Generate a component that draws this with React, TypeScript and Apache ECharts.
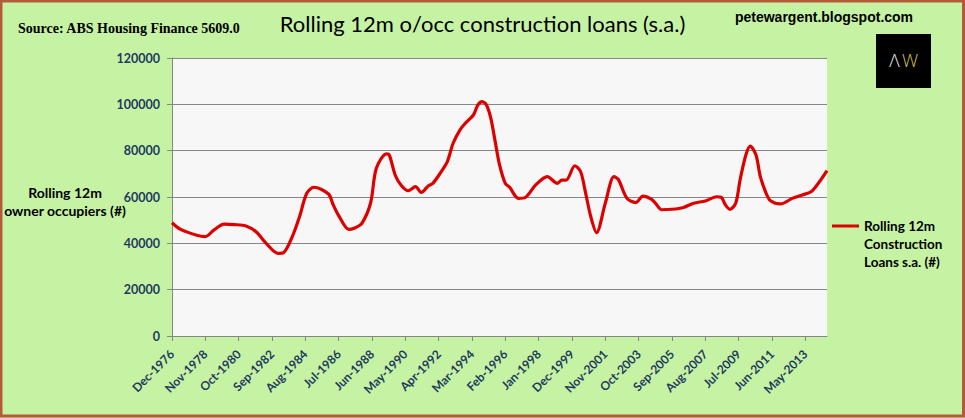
import React, { useEffect, useRef } from "react";
import * as echarts from "echarts";

// Points (month, rolling 12m owner-occupier construction loans)
const pointDates = [
  "1976-12", "1977-06", "1978-05", "1978-11", "1979-05", "1979-12", "1980-07", "1981-03", "1981-10", "1982-05",
  "1983-01", "1983-05", "1983-11", "1984-04", "1984-09", "1985-02", "1985-12", "1986-03", "1986-07", "1987-02",
  "1987-06", "1987-11", "1988-05", "1988-09", "1989-04", "1989-06", "1989-10", "1990-02", "1990-07", "1990-12",
  "1991-04", "1991-09", "1991-12", "1992-05", "1992-10", "1993-02", "1993-07", "1993-11", "1994-04", "1994-07",
  "1994-10", "1995-01", "1995-04", "1995-07", "1995-10", "1996-02", "1996-05", "1996-11", "1997-04", "1997-11",
  "1998-07", "1999-02", "1999-05", "1999-08", "2000-02", "2000-06", "2000-09", "2001-01", "2001-05", "2001-11",
  "2002-05", "2002-08", "2003-02", "2003-08", "2004-01", "2004-07", "2004-10", "2005-02", "2005-09", "2006-05",
  "2006-12", "2007-08", "2008-04", "2008-07", "2008-10", "2009-01", "2009-05", "2009-08", "2009-12", "2010-03",
  "2010-07", "2010-10", "2011-02", "2011-05", "2011-12", "2012-08", "2013-03", "2013-09", "2014-02", "2014-08",
];

const loanValues = [
  48900, 46000, 43500, 42900, 45800, 48300, 48100, 47500, 45000, 40000,
  35700, 36000, 42900, 51500, 61600, 64200, 61300, 57000, 52000, 46000,
  46600, 48600, 57300, 72400, 78600, 78100, 69500, 65200, 62700, 64500,
  62000, 64900, 65900, 70200, 75300, 83200, 89200, 92200, 95400, 99700,
  101200, 99700, 94000, 84000, 74000, 65900, 64200, 59400, 59900, 65200,
  68800, 65900, 67300, 67300, 73500, 70900, 63000, 51500, 44600, 57300,
  68800, 67600, 59400, 57600, 60400, 59000, 57000, 54500, 54700, 55500,
  57300, 58300, 60100, 59900, 56500, 54700, 57300, 67300, 78100, 82000,
  78100, 68800, 61600, 58400, 57000, 59400, 60900, 62300, 65900, 71400,
];

const tickLabels = [
  "Dec-1976", "Nov-1978", "Oct-1980", "Sep-1982", "Aug-1984", "Jul-1986", "Jun-1988",
  "May-1990", "Apr-1992", "Mar-1994", "Feb-1996", "Jan-1998", "Dec-1999", "Nov-2001",
  "Oct-2003", "Sep-2005", "Aug-2007", "Jul-2009", "Jun-2011", "May-2013",
];
const tickStepMonths = 23;
const startDate = "1976-12";
const endDate = "2014-08";

const seriesName = "Rolling 12m Construction Loans s.a. (#)";
const legendLines = ["Rolling 12m", "Construction", "Loans s.a. (#)"];
const yTitleLines = ["Rolling 12m", "owner occupiers (#)"];

const monthIndex = (d: string) => {
  const [y, m] = d.split("-").map(Number);
  const [y0, m0] = startDate.split("-").map(Number);
  return (y - y0) * 12 + (m - m0);
};

const FONT = "Lato, 'Open Sans', sans-serif";
const AXIS_BLUE = "#1f3a5f";

export default function App() {
  const ref = useRef<HTMLDivElement>(null);

  useEffect(() => {
    if (!ref.current) return;
    const chart = echarts.init(ref.current, undefined, { renderer: "svg" });
    const data = pointDates.map((d, i) => [monthIndex(d), loanValues[i]]);
    const tickValues = tickLabels.map((_, i) => i * tickStepMonths);

    chart.setOption({
      animation: false,
      backgroundColor: "#c6f2a4",
      title: {
        text: "Rolling 12m o/occ construction loans (s.a.)",
        left: "center",
        top: 7,
        textStyle: { fontFamily: FONT, fontSize: 22, fontWeight: "normal", color: "#000" },
      },
      grid: {
        left: 172,
        right: 138,
        top: 58,
        bottom: 82,
        show: true,
        backgroundColor: "#f7f7f7",
        borderWidth: 0,
      },
      legend: {
        show: true,
        left: 832,
        top: 181,
        padding: 0,
        orient: "vertical",
        selectedMode: false,
        icon: "rect",
        itemWidth: 27,
        itemHeight: 3,
        formatter: () => "\n\n" + legendLines.join("\n"),
        textStyle: {
          fontFamily: FONT,
          fontSize: 13.5,
          fontWeight: "bold",
          color: "#000",
          lineHeight: 18,
        },
        data: [seriesName],
      },
      xAxis: {
        type: "value",
        min: 0,
        max: monthIndex(endDate),
        interval: tickStepMonths,
        axisLine: { show: true, lineStyle: { color: "#868686", width: 1 } },
        axisTick: { show: true, length: 5, customValues: tickValues, lineStyle: { color: "#868686" } },
        splitLine: { show: false },
        axisLabel: {
          customValues: tickValues,
          rotate: 45,
          margin: 16,
          fontFamily: FONT,
          fontSize: 12,
          fontWeight: "bold",
          color: AXIS_BLUE,
          formatter: (v: number) => tickLabels[Math.round(v / tickStepMonths)] ?? "",
        },
      },
      yAxis: {
        type: "value",
        min: 0,
        max: 120000,
        interval: 20000,
        axisLine: { show: true, lineStyle: { color: "#868686", width: 1 } },
        axisTick: { show: true, length: 5, lineStyle: { color: "#868686" } },
        splitLine: { show: true, lineStyle: { color: "#868686", width: 1 } },
        axisLabel: {
          margin: 12,
          fontFamily: FONT,
          fontSize: 12.5,
          fontWeight: "bold",
          color: AXIS_BLUE,
          formatter: (v: number) => String(v),
        },
      },
      series: [
        {
          name: seriesName,
          type: "line",
          data,
          smooth: 0.3,
          symbol: "none",
          lineStyle: { color: "#dd0000", width: 3.2 },
          itemStyle: { color: "#dd0000" },
        },
      ],
      graphic: [
        {
          type: "text",
          x: 18,
          y: 28,
          style: {
            text: "Source: ABS Housing Finance 5609.0",
            font: "bold 14px 'Liberation Serif', 'Times New Roman', serif",
            fill: "#000",
            textAlign: "left",
            textVerticalAlign: "middle",
          },
        },
        {
          type: "text",
          x: 824,
          y: 17,
          style: {
            text: "petewargent.blogspot.com",
            font: "bold 14px 'Liberation Sans', Arial, sans-serif",
            fill: "#000",
            textAlign: "center",
            textVerticalAlign: "middle",
          },
        },
        {
          type: "text",
          x: 65,
          y: 201,
          style: {
            text: yTitleLines.join("\n"),
            font: `bold 14px ${FONT}`,
            lineHeight: 18,
            fill: "#000",
            textAlign: "center",
            textVerticalAlign: "middle",
          },
        },
        {
          type: "rect",
          shape: { x: 876, y: 34, width: 55, height: 54 },
          style: { fill: "#000" },
        },
        {
          type: "text",
          x: 894.5,
          y: 60,
          z: 10,
          style: {
            text: "Λ",
            font: "300 18px 'Open Sans', sans-serif",
            fill: "#e6e6e6",
            textAlign: "center",
            textVerticalAlign: "middle",
          },
        },
        {
          type: "text",
          x: 910,
          y: 60,
          z: 10,
          style: {
            text: "W",
            font: "300 18px 'Open Sans', sans-serif",
            fill: "#d8c43c",
            textAlign: "center",
            textVerticalAlign: "middle",
          },
        },
        {
          type: "rect",
          z: 100,
          shape: { x: 1, y: 1, width: 962.5, height: 415 },
          style: { fill: "none", stroke: "#b35a3a", lineWidth: 3 },
        },
      ],
    });

    return () => chart.dispose();
  }, []);

  return (
    <div
      ref={ref}
      style={{ position: "fixed", left: 0, top: 0, width: 965, height: 418 }}
    />
  );
}
